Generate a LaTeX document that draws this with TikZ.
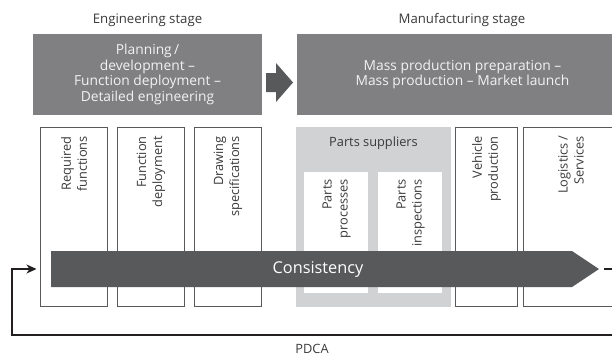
\documentclass[tikz,border=0pt]{standalone}
\usepackage{fontspec}
\setmainfont{Open Sans}
\usetikzlibrary{arrows.meta}
\definecolor{hdr}{HTML}{808083}
\definecolor{darkg}{HTML}{58595B}
\definecolor{lgray}{HTML}{D1D2D4}
\definecolor{bord}{HTML}{58595B}
\definecolor{txt}{HTML}{3A3A3C}
\definecolor{loopc}{HTML}{231F20}
\tikzset{
  hdrbox/.style={fill=hdr, inner sep=0pt, text=white!95!black, align=center,
    font=\fontsize{13.8}{15.7}\selectfont},
  stagelbl/.style={text=txt, font=\fontsize{13.2}{15}\selectfont},
  colbox/.style={draw=bord, line width=1pt, fill=white, inner sep=0pt},
  innerbox/.style={fill=white, inner sep=0pt},
  vtext/.style={rotate=90, anchor=east, align=right, text=txt, inner sep=0pt,
    font=\fontsize{12.8}{16}\selectfont},
  pdca/.style={draw=loopc, line width=1.2pt},
  arrowfill/.style={fill=darkg},
}
\begin{document}
\begin{tikzpicture}[x=1pt,y=-1pt]
\useasboundingbox (0,0) rectangle (612,357);
\clip (0,0) rectangle (612,357);
% stage labels
\node[stagelbl] (engl) at (147.5,20) {Engineering stage};
\node[stagelbl] (manl) at (462,20) {Manufacturing stage};
% header boxes
\node[hdrbox, minimum width=229pt, minimum height=81pt] (hl) at (147.5,74.5)
  {Planning\,/\\development –\\Function deployment –\\Detailed engineering};
\node[hdrbox, minimum width=331pt, minimum height=81pt] (hr) at (462.5,74.5)
  {Mass production preparation –\\Mass production – Market launch};
% arrow between headers
\fill[arrowfill] (266,73) -- (276,73) -- (276,63) -- (293,82.5) -- (276,102) -- (276,92) -- (266,92) -- cycle;
% column boxes
\node[colbox, minimum width=67pt, minimum height=179pt] (b1) at (73.5,216.5) {};
\node[colbox, minimum width=67pt, minimum height=179pt] (b2) at (150.5,216.5) {};
\node[colbox, minimum width=67pt, minimum height=179pt] (b3) at (227.5,216.5) {};
\node[fill=lgray, inner sep=0pt, minimum width=155pt, minimum height=180pt] (ps) at (373.5,217) {};
\node[innerbox, minimum width=64pt, minimum height=121pt] (p1) at (336,232.5) {};
\node[innerbox, minimum width=64pt, minimum height=121pt] (p2) at (410,232.5) {};
\node[colbox, minimum width=62pt, minimum height=179pt] (b4) at (486,216.5) {};
\node[colbox, minimum width=96pt, minimum height=179pt] (b5) at (571,216.5) {};
% texts
\node[stagelbl, font=\fontsize{12.8}{15}\selectfont] (pst) at (373.5,143) {Parts suppliers};
\node[vtext] (t1) at (74,136) {Required\\functions};
\node[vtext] (t2) at (151,136) {Function\\deployment};
\node[vtext] (t3) at (228,136) {Drawing\\specifications};
\node[vtext] (t4) at (336.5,179) {Parts\\processes};
\node[vtext] (t5) at (410.5,179) {Parts\\inspections};
\node[vtext] (t6) at (486.5,136) {Vehicle\\production};
\node[vtext] (t7) at (571,136) {Logistics\,/\\Services};
% consistency arrow
\fill[arrowfill] (51,251) -- (572,251) -- (599,269) -- (572,287) -- (51,287) -- cycle;
\coordinate (constip) at (599,269);
\node[text=white, font=\fontsize{16.3}{18}\selectfont] (ctext) at (318,269) {Consistency};
% PDCA loop
\draw[pdca, -{Stealth[length=10pt,width=9pt,inset=3pt]}]
  ([xshift=5pt]constip) -- (640,269) |- (12,335) |- ([xshift=-3pt]b1.west |- constip);
\node[stagelbl, font=\fontsize{12.8}{14}\selectfont] (pl) at (312,349) {PDCA};
\end{tikzpicture}
\end{document}
